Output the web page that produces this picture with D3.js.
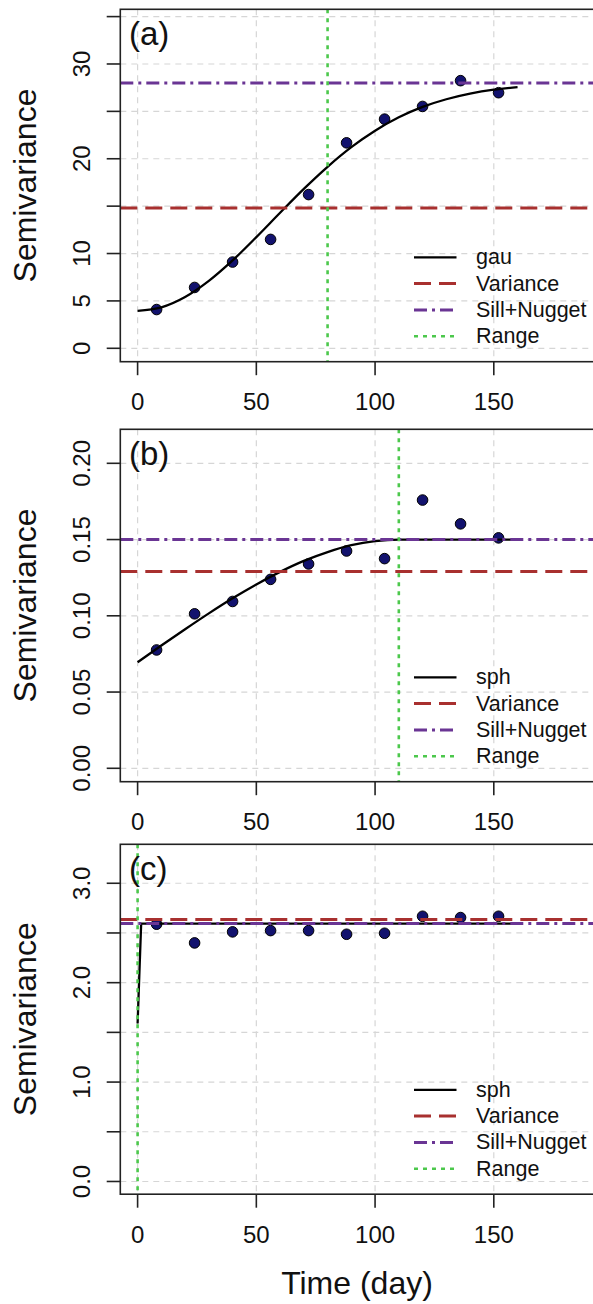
<!DOCTYPE html>
<html>
<head>
<meta charset="utf-8">
<script src="https://cdn.jsdelivr.net/npm/d3@7"></script>
<style>
  html, body { margin: 0; padding: 0; background: #fff; }
  svg { display: block; font-family: "Liberation Sans", Arial, Helvetica, sans-serif; }
</style>
</head>
<body>
<svg id="chart" width="593" height="1304"></svg>
<script>
// ---------------- data ----------------
const lags = [8, 24, 40, 56, 72, 88, 104, 120, 136, 152];
const gammaA = [4.09, 6.42, 9.10, 11.49, 16.22, 21.68, 24.18, 25.52, 28.24, 26.97];
const gammaB = [0.0776, 0.1013, 0.1094, 0.1239, 0.1340, 0.1425, 0.1375, 0.1759, 0.1603, 0.1511];
const gammaC = [2.588, 2.400, 2.511, 2.524, 2.524, 2.487, 2.497, 2.668, 2.655, 2.668];

const fitDistA = [0, 10, 20, 30, 40, 50, 60, 70, 80, 90, 100, 110, 120, 130, 140, 150, 160];
const fitA = [3.95, 4.32, 5.41, 7.11, 9.27, 11.73, 14.30, 16.82, 19.15, 21.22, 22.96, 24.37, 25.47, 26.28, 26.87, 27.29, 27.56];
const fitDistB = [0, 10, 20, 30, 40, 50, 60, 70, 80, 90, 100, 110, 160];
const fitB = [0.0695, 0.0805, 0.0912, 0.1016, 0.1115, 0.1206, 0.1288, 0.1360, 0.1418, 0.1463, 0.1490, 0.1500, 0.1500];
const fitDistC = [0, 1.5, 160];
const fitC = [1.59, 2.594, 2.594];

const modelNames = ["gau", "sph", "sph"];
const panelLabels = ["(a)", "(b)", "(c)"];
const varianceVals = [14.8, 0.129, 2.635];
const sillVals = [28.0, 0.150, 2.594];
const rangeVals = [80, 110, 0];

const xTicks = [0, 50, 100, 150, 200];
const xTickLabels = ["0", "50", "100", "150", "200"];
const yTicksA = [0, 5, 10, 15, 20, 25, 30, 35];
const yLabelsA = ["0", "5", "10", "", "20", "", "30", ""];
const yTicksB = [0, 0.05, 0.10, 0.15, 0.20];
const yLabelsB = ["0.00", "0.05", "0.10", "0.15", "0.20"];
const yTicksC = [0, 0.5, 1.0, 1.5, 2.0, 2.5, 3.0];
const yLabelsC = ["0.0", "", "1.0", "", "2.0", "", "3.0"];

const legendLabels = ["Variance", "Sill+Nugget", "Range"];
const yTitle = "Semivariance";
const xTitle = "Time (day)";

// ---------------- layout ----------------
const W = 593;
const boxLeft = 120.3, boxRight = 594;
const xDomain = [(boxLeft - 137.6) / 2.3747, (boxRight - 137.6) / 2.3747];

const panels = [
  { top: 9.3,   bottom: 361.7,  yDomain: [-1.414, 35.77], ticks: yTicksA, labels: yLabelsA,
    pts: gammaA, fd: fitDistA, fv: fitA },
  { top: 429.3, bottom: 781.7,  yDomain: [-0.00879, 0.2223], ticks: yTicksB, labels: yLabelsB,
    pts: gammaB, fd: fitDistB, fv: fitB },
  { top: 844.3, bottom: 1194.2, yDomain: [-0.128, 3.392], ticks: yTicksC, labels: yLabelsC,
    pts: gammaC, fd: fitDistC, fv: fitC }
];

const col = {
  variance: "#a8302f",
  sill: "#6a3594",
  range: "#4cc84c",
  grid: "#d6d6d6",
  pt: "#12126e"
};
const dash = { variance: "17,8", sill: "13,5,3,5", range: "4,5", grid: "6,5" };

const svg = d3.select("#chart");
const x = d3.scaleLinear().domain(xDomain).range([boxLeft, boxRight]);

panels.forEach((p, i) => {
  const y = d3.scaleLinear().domain(p.yDomain).range([p.bottom, p.top]);
  const g = svg.append("g");
  const clipId = "clip" + i;
  g.append("clipPath").attr("id", clipId).append("rect")
    .attr("x", boxLeft).attr("y", p.top)
    .attr("width", boxRight - boxLeft).attr("height", p.bottom - p.top);

  const inner = g.append("g").attr("clip-path", `url(#${clipId})`);

  // grid
  inner.selectAll(".gx").data(xTicks).join("line")
    .attr("x1", d => x(d)).attr("x2", d => x(d))
    .attr("y1", p.top).attr("y2", p.bottom)
    .attr("stroke", col.grid).attr("stroke-width", 1.2).attr("stroke-dasharray", dash.grid);
  inner.selectAll(".gy").data(p.ticks).join("line")
    .attr("x1", boxLeft).attr("x2", boxRight)
    .attr("y1", d => y(d)).attr("y2", d => y(d))
    .attr("stroke", col.grid).attr("stroke-width", 1.2).attr("stroke-dasharray", dash.grid);

  // points
  inner.selectAll(".pt").data(lags.map((l, k) => [l, p.pts[k]])).join("circle")
    .attr("cx", d => x(d[0])).attr("cy", d => y(d[1])).attr("r", 5.3)
    .attr("fill", col.pt).attr("stroke", "#000").attr("stroke-width", 1);

  // fitted model
  const line = d3.line().x(d => x(d[0])).y(d => y(d[1]))
    .curve(i === 2 ? d3.curveLinear : d3.curveMonotoneX);
  inner.append("path").datum(p.fd.map((d, k) => [d, p.fv[k]]))
    .attr("d", line).attr("fill", "none").attr("stroke", "#000").attr("stroke-width", 2.3);

  // reference lines
  inner.append("line").attr("x1", boxLeft).attr("x2", boxRight)
    .attr("y1", y(varianceVals[i])).attr("y2", y(varianceVals[i]))
    .attr("stroke", col.variance).attr("stroke-width", 3).attr("stroke-dasharray", dash.variance);
  inner.append("line").attr("x1", boxLeft).attr("x2", boxRight)
    .attr("y1", y(sillVals[i])).attr("y2", y(sillVals[i]))
    .attr("stroke", col.sill).attr("stroke-width", 3).attr("stroke-dasharray", dash.sill);
  inner.append("line").attr("x1", x(rangeVals[i])).attr("x2", x(rangeVals[i]))
    .attr("y1", p.top).attr("y2", p.bottom)
    .attr("stroke", col.range).attr("stroke-width", 2.6).attr("stroke-dasharray", dash.range);

  // box
  g.append("rect").attr("x", boxLeft).attr("y", p.top)
    .attr("width", boxRight - boxLeft).attr("height", p.bottom - p.top)
    .attr("fill", "none").attr("stroke", "#222").attr("stroke-width", 1.6);

  // y axis ticks
  g.selectAll(".ty").data(p.ticks).join("line")
    .attr("x1", boxLeft - 13.6).attr("x2", boxLeft)
    .attr("y1", d => y(d)).attr("y2", d => y(d))
    .attr("stroke", "#222").attr("stroke-width", 1.6);
  g.selectAll(".tyl").data(p.ticks.map((t, k) => [t, p.labels[k]]).filter(d => d[1] !== "")).join("text")
    .attr("transform", d => `translate(81.5,${y(d[0])}) rotate(-90)`)
    .attr("text-anchor", "middle").attr("dominant-baseline", "central")
    .attr("font-size", 24).attr("fill", "#111").text(d => d[1]);

  // x axis ticks
  const xt = xTicks.filter(d => x(d) <= W);
  g.selectAll(".tx").data(xt).join("line")
    .attr("x1", d => x(d)).attr("x2", d => x(d))
    .attr("y1", p.bottom).attr("y2", p.bottom + 13.5)
    .attr("stroke", "#222").attr("stroke-width", 1.6);
  g.selectAll(".txl").data(xt).join("text")
    .attr("x", d => x(d)).attr("y", p.bottom + 40)
    .attr("text-anchor", "middle").attr("dominant-baseline", "central")
    .attr("font-size", 24).attr("fill", "#111").text(d => xTickLabels[xTicks.indexOf(d)]);

  // y title
  g.append("text")
    .attr("transform", `translate(25,${(p.top + p.bottom) / 2}) rotate(-90)`)
    .attr("text-anchor", "middle").attr("dominant-baseline", "central")
    .attr("font-size", 32).attr("fill", "#111").text(yTitle);

  // panel label
  g.append("text").attr("x", 129).attr("y", p.top + 36)
    .attr("font-size", 33).attr("fill", "#111").text(panelLabels[i]);

  // legend
  const items = [
    { label: modelNames[i], color: "#000", dash: null, w: 2.3 },
    { label: legendLabels[0], color: col.variance, dash: dash.variance, w: 3 },
    { label: legendLabels[1], color: col.sill, dash: dash.sill, w: 3 },
    { label: legendLabels[2], color: col.range, dash: dash.range, w: 2.6 }
  ];
  const rowGap = 26.3;
  const lastY = p.bottom - 25.5;
  items.forEach((it, k) => {
    const ly = lastY - (3 - k) * rowGap;
    g.append("line").attr("x1", 414).attr("x2", 456.5).attr("y1", ly).attr("y2", ly)
      .attr("stroke", it.color).attr("stroke-width", it.w)
      .attr("stroke-dasharray", it.dash);
    g.append("text").attr("x", 476).attr("y", ly)
      .attr("dominant-baseline", "central").attr("font-size", 21.5).attr("fill", "#111")
      .text(it.label);
  });
});

// x title
svg.append("text").attr("x", 357).attr("y", 1283)
  .attr("text-anchor", "middle").attr("dominant-baseline", "central")
  .attr("font-size", 32).attr("fill", "#111").text(xTitle);
</script>
</body>
</html>
